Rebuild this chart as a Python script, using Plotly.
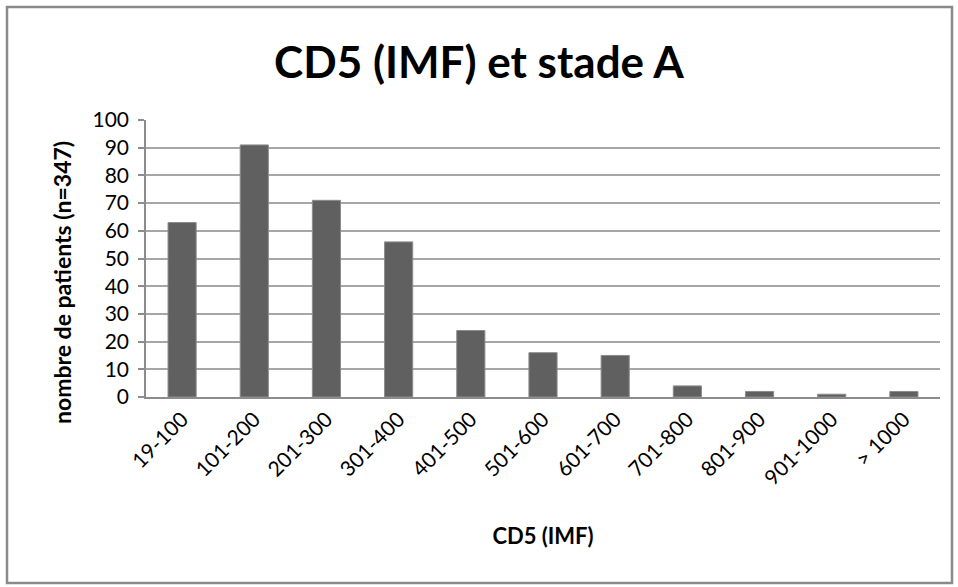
import plotly.graph_objects as go

# CD5 intensity classes and patient counts
categories = ["19-100", "101-200", "201-300", "301-400", "401-500", "501-600",
              "601-700", "701-800", "801-900", "901-1000", "> 1000"]
patients = [63, 91, 71, 56, 24, 16, 15, 4, 2, 1, 2]
y_ticks = [0, 10, 20, 30, 40, 50, 60, 70, 80, 90, 100]

FONT = "Lato, 'Open Sans', sans-serif"

fig = go.Figure(
    go.Bar(
        x=categories,
        y=patients,
        width=0.39,
        marker=dict(color="#606060", line=dict(color="#8c8c8c", width=1)),
    )
)

fig.update_layout(
    width=958,
    height=587,
    margin=dict(l=146, r=18, t=120, b=190),
    paper_bgcolor="white",
    plot_bgcolor="white",
    showlegend=False,
    font=dict(family=FONT, color="#000000"),
    title=dict(
        text="<b>CD5 (IMF) et stade A</b>",
        x=0.5,
        xanchor="center",
        y=1 - 63 / 587,
        yanchor="middle",
        font=dict(size=44, family=FONT, color="#000000"),
    ),
)

fig.update_xaxes(
    type="category",
    tickangle=-45,
    tickfont=dict(size=21, family=FONT),
    showline=True,
    linecolor="#8c8c8c",
    linewidth=1.5,
    ticks="",
    showgrid=False,
    title=dict(text="<b>CD5 (IMF)</b>", font=dict(size=22, family=FONT), standoff=40),
)

fig.update_yaxes(
    range=[0, 100],
    tickvals=y_ticks,
    tickfont=dict(size=21, family=FONT),
    showline=True,
    linecolor="#8c8c8c",
    linewidth=1.5,
    ticks="outside",
    ticklen=6,
    tickcolor="#8c8c8c",
    tickwidth=1.5,
    ticklabelstandoff=5,
    showgrid=True,
    gridcolor="#a6a6a6",
    gridwidth=1.5,
    zeroline=False,
)

# Vertical axis title, sitting slightly below the plot's mid-height
fig.add_annotation(
    text="<b>nombre de patients (n=347)</b>",
    textangle=-90,
    xref="paper", yref="paper",
    x=(62 - 146) / 794, y=(397 - 283) / 277,
    xanchor="center", yanchor="middle",
    showarrow=False,
    font=dict(size=23, family=FONT, color="#000000"),
)

# Outer chart-area frame
fig.add_shape(
    type="rect",
    xref="paper", yref="paper",
    x0=(7 - 146) / 794, x1=(952 - 146) / 794,
    y0=(397 - 583) / 277, y1=(397 - 7) / 277,
    line=dict(color="#8a8a8a", width=2.5),
    fillcolor="rgba(0,0,0,0)",
    layer="below",
)

fig.write_html("out.html")
